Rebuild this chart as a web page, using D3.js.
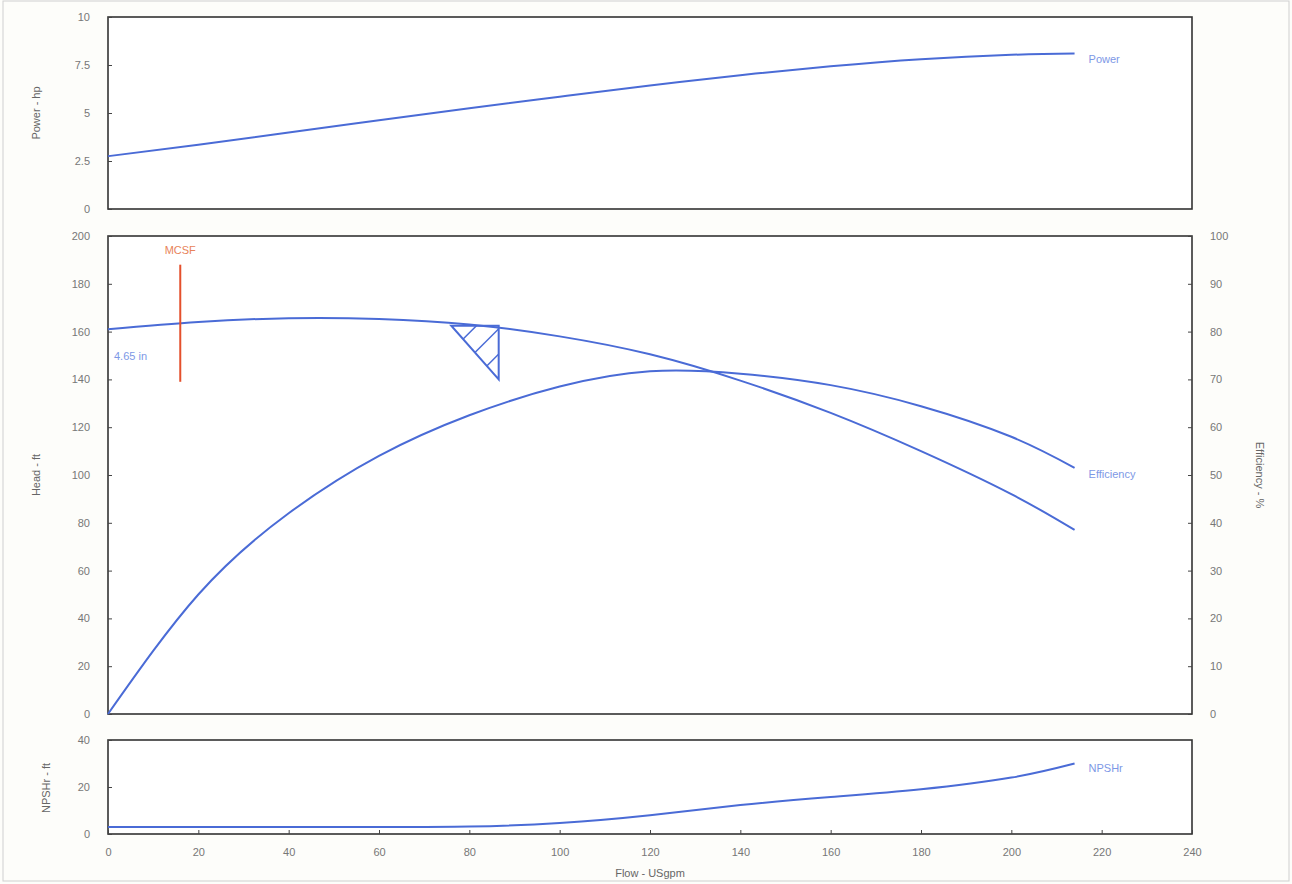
<!DOCTYPE html>
<html>
<head>
<meta charset="utf-8">
<script src="https://cdn.jsdelivr.net/npm/d3@7"></script>
<style>
  html, body { margin: 0; padding: 0; background: #fdfdfa; }
  svg { display: block; }
  .tick text { font-family: "Liberation Sans", Arial, sans-serif; font-size: 11px; fill: #777777; }
  .axis path { display: none; }
  .axis line { stroke: #444; stroke-width: 1; }
  .lbl { font-family: "Liberation Sans", Arial, sans-serif; font-size: 11px; }
</style>
</head>
<body>
<svg id="chart" width="1292" height="884"></svg>
<script>
// Pump performance curves, 4.65 in impeller
const flow      = [0, 20, 40, 60, 80, 100, 120, 140, 160, 180, 200, 214];
const powerHp   = [2.75, 3.35, 3.98, 4.62, 5.25, 5.85, 6.43, 6.97, 7.43, 7.8, 8.03, 8.1];
const headFt    = [161, 164, 165.6, 165.3, 163, 158, 150.5, 139.5, 126, 110, 92, 77];
const effPct    = [0, 25, 42, 54, 62.5, 68.5, 71.7, 71.2, 68.8, 64.4, 58, 51.5];
const npshFt    = [3, 3, 3, 3, 3.2, 4.7, 8, 12.3, 15.7, 19, 24, 30];

const xTicks     = [0, 20, 40, 60, 80, 100, 120, 140, 160, 180, 200, 220, 240];
const powerTicks = [0, 2.5, 5, 7.5, 10];
const headTicks  = [0, 20, 40, 60, 80, 100, 120, 140, 160, 180, 200];
const effTicks   = [0, 10, 20, 30, 40, 50, 60, 70, 80, 90, 100];
const npshTicks  = [0, 20, 40];

// Minimum continuous stable flow and best efficiency point region
const mcsfFlow  = 16;
const mcsfHead  = [139, 188];
const bepTri    = [[76, 162.5], [86.5, 162.5], [86.5, 140]];

const svg = d3.select("#chart");
const blue = "#4a6bd6";
const labelBlue = "#7d98e6";

const L = 108, R = 1192;
const x = d3.scaleLinear().domain([0, 240]).range([L, R]);

const panels = {
  power: { top: 17, bottom: 209 },
  head:  { top: 236, bottom: 714 },
  npsh:  { top: 740, bottom: 834 }
};

const yPow  = d3.scaleLinear().domain([0, 10]).range([panels.power.bottom, panels.power.top]);
const yHead = d3.scaleLinear().domain([0, 200]).range([panels.head.bottom, panels.head.top]);
const yEff  = d3.scaleLinear().domain([0, 100]).range([panels.head.bottom, panels.head.top]);
const yNpsh = d3.scaleLinear().domain([0, 40]).range([panels.npsh.bottom, panels.npsh.top]);

// faint page border
svg.append("rect").attr("x", 3).attr("y", 1).attr("width", 1286).attr("height", 880)
  .attr("fill", "none").attr("stroke", "#cfcfcf").attr("stroke-width", 1);

function frame(p) {
  svg.append("rect").attr("x", L).attr("y", p.top).attr("width", R - L).attr("height", p.bottom - p.top)
    .attr("fill", "#ffffff").attr("stroke", "#333").attr("stroke-width", 1.6);
}
Object.values(panels).forEach(frame);

function leftAxis(scale, ticks, fmt) {
  svg.append("g").attr("class", "axis").attr("transform", `translate(${L},0)`)
    .call(d3.axisLeft(scale).tickValues(ticks).tickFormat(fmt || d3.format("")).tickSizeInner(-4).tickSizeOuter(0).tickPadding(18));
}
leftAxis(yPow, powerTicks, d => String(d));
leftAxis(yHead, headTicks);
leftAxis(yNpsh, npshTicks);

svg.append("g").attr("class", "axis").attr("transform", `translate(${R},0)`)
  .call(d3.axisRight(yEff).tickValues(effTicks).tickSizeInner(-4).tickSizeOuter(0).tickPadding(18));

svg.append("g").attr("class", "axis").attr("transform", `translate(0,${panels.npsh.bottom})`)
  .call(d3.axisBottom(x).tickValues(xTicks).tickSizeInner(-4).tickSizeOuter(0).tickPadding(14));

// axis titles
function title(text, tx, ty, rot) {
  svg.append("text").attr("class", "lbl").attr("fill", "#666")
    .attr("transform", `translate(${tx},${ty}) rotate(${rot})`)
    .attr("text-anchor", "middle").text(text);
}
title("Power - hp", 40, 113, -90);
title("Head - ft", 40, 475, -90);
title("NPSHr - ft", 50, 788, -90);
title("Efficiency - %", 1256, 475, 90);
title("Flow - USgpm", 650, 877, 0);

// curves
const line = (ys, yScale) => d3.line()
  .x((d, i) => x(flow[i])).y(d => yScale(d))
  .curve(d3.curveNatural)(ys);

function curve(ys, yScale) {
  svg.append("path").attr("d", line(ys, yScale))
    .attr("fill", "none").attr("stroke", blue).attr("stroke-width", 2);
}
curve(powerHp, yPow);
curve(headFt, yHead);
curve(effPct, yEff);
curve(npshFt, yNpsh);

// curve labels
function curveLabel(text, ys, yScale, dy) {
  const n = flow.length - 1;
  svg.append("text").attr("class", "lbl").attr("fill", labelBlue)
    .attr("x", x(flow[n]) + 14).attr("y", yScale(ys[n]) + dy).text(text);
}
curveLabel("Power", powerHp, yPow, 10);
curveLabel("Efficiency", effPct, yEff, 10);
curveLabel("NPSHr", npshFt, yNpsh, 8);

svg.append("text").attr("class", "lbl").attr("fill", labelBlue)
  .attr("x", x(0) + 6).attr("y", yHead(150) + 4).text("4.65 in");

// MCSF marker
svg.append("line").attr("x1", x(mcsfFlow)).attr("x2", x(mcsfFlow))
  .attr("y1", yHead(mcsfHead[0])).attr("y2", yHead(mcsfHead[1]))
  .attr("stroke", "#e4502c").attr("stroke-width", 2);
svg.append("text").attr("class", "lbl").attr("fill", "#e8835a")
  .attr("x", x(mcsfFlow)).attr("y", yHead(mcsfHead[1]) - 11)
  .attr("text-anchor", "middle").text("MCSF");

// BEP hatched triangle
const triPts = bepTri.map(([f, h]) => [x(f), yHead(h)]);
const defs = svg.append("defs");
defs.append("clipPath").attr("id", "bepClip")
  .append("path").attr("d", d3.line()(triPts) + "Z");
const hatch = svg.append("g").attr("clip-path", "url(#bepClip)");
[0.25, 0.5, 0.75].forEach(t => {
  // hatch lines start on the slanted edge and run up to the right
  const hx = triPts[0][0] + (triPts[2][0] - triPts[0][0]) * t;
  const hy = triPts[0][1] + (triPts[2][1] - triPts[0][1]) * t;
  hatch.append("line")
    .attr("x1", hx - 5).attr("y1", hy + 5)
    .attr("x2", hx + 60).attr("y2", hy - 60)
    .attr("stroke", blue).attr("stroke-width", 1.5);
});
svg.append("path").attr("d", d3.line()(triPts) + "Z")
  .attr("fill", "none").attr("stroke", blue).attr("stroke-width", 2);
</script>
</body>
</html>
